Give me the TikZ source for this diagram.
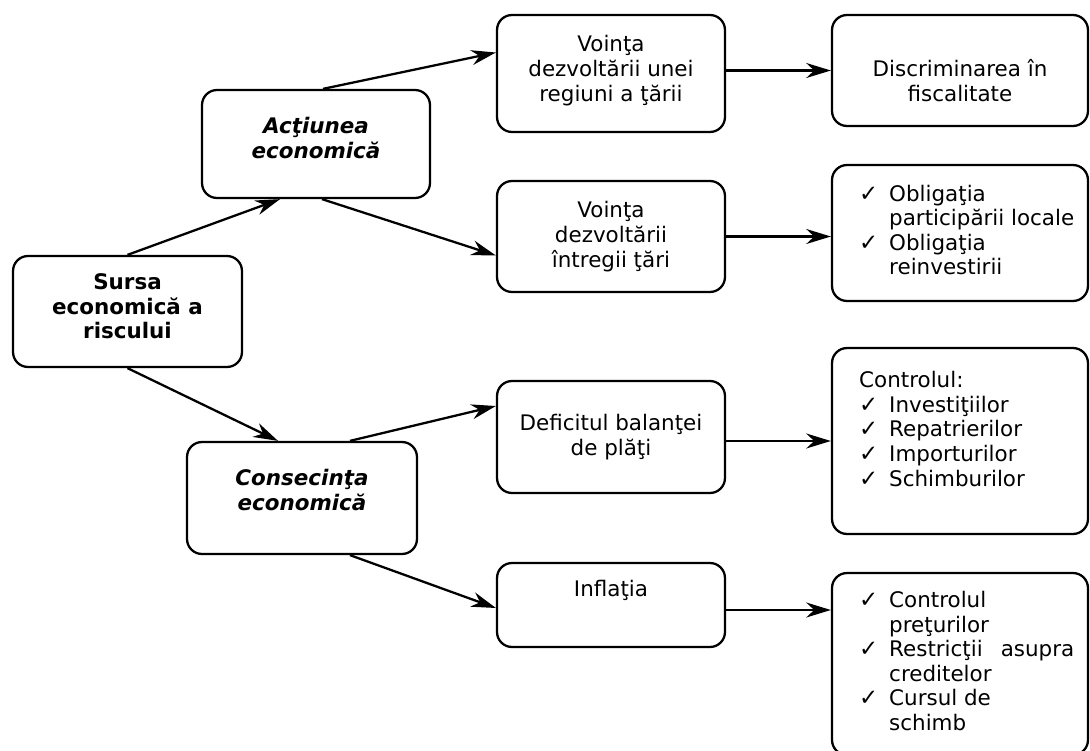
\documentclass[tikz,border=0pt]{standalone}
\usepackage{fontspec}
\setmainfont{DejaVu Sans}
\usepackage{array}
\usetikzlibrary{arrows.meta, positioning, calc}
\newcommand{\chkmark}{{\fontsize{13}{13}\selectfont ✓}}

\begin{document}
\begin{tikzpicture}[x=0.02cm, y=-0.02cm,
    box/.style={draw, line width=1.3pt, rounded corners=0.3cm, inner sep=0pt},
    midbox/.style={box, minimum width=4.56cm},
    farbox/.style={box, minimum width=5.12cm},
    txt/.style={align=center, inner sep=0pt, font=\fontsize{12.2}{14}\selectfont},
    lst/.style={anchor=west, inner sep=0pt, font=\fontsize{12.2}{14}\selectfont},
    link/.style={line width=1.3pt, -{Stealth[length=14pt, width=8.5pt, inset=4.5pt]}}]
  \useasboundingbox (0,0) rectangle (1090,751);
  % Source and the two branches
  \node[box, minimum width=4.58cm, minimum height=2.22cm] (sursa) at (127.5,311.5) {};
  \node[box, minimum width=4.56cm, minimum height=2.16cm] (actiune) at (316,144) {};
  \node[box, minimum width=4.60cm, minimum height=2.24cm] (consecinta) at (302,498) {};
  \node[txt] (t-sursa) at ($(sursa)+(0,-5)$) {\bfseries Sursa\\\bfseries economică a\\\bfseries riscului};
  \node[txt] (t-actiune) at ($(actiune)+(0,-6)$) {\bfseries\itshape Acţiunea\\\bfseries\itshape economică};
  \node[txt] (t-consecinta) at ($(consecinta)+(0,-8)$) {\bfseries\itshape Consecinţa\\\bfseries\itshape economică};
  % Middle column
  \node[midbox, minimum height=2.34cm] (vointaA) at (611,73.5) {};
  \node[midbox, minimum height=2.22cm] (vointaB) at (611,236.5) {};
  \node[midbox, minimum height=2.24cm] (deficit) at (611,437) {};
  \node[midbox, minimum height=1.68cm] (inflatia) at (611,605) {};
  \node[txt] (t-vointaA) at ($(vointaA)+(0,-3)$) {Voinţa\\dezvoltării unei\\regiuni a ţării};
  \node[txt] (t-vointaB) at (vointaB) {Voinţa\\dezvoltării\\întregii ţări};
  \node[txt] (t-deficit) at (deficit) {Deficitul balanţei\\de plăţi};
  \node[txt] (t-inflatia) at ($(inflatia)+(0,-15)$) {Inflaţia};
  % Right column
  \node[farbox, minimum height=2.22cm] (discrim) at (960,70.5) {};
  \node[farbox, minimum height=2.72cm] (obligatii) at (960,233) {};
  \node[farbox, minimum height=3.72cm] (controlul) at (960,441) {};
  \node[farbox, minimum height=3.64cm] (masuri) at (960,664) {};
  \node[txt] (t-discrim) at ($(discrim)+(0,10)$) {Discriminarea în\\fiscalitate};
  \node[lst] (t-obligatii) at ($(obligatii.west)+(28,0)$) {%
    \begin{tabular}{@{}p{0.6cm}@{}p{3.7cm}@{}}
      \chkmark & Obligaţia\newline participării locale\\
      \chkmark & Obligaţia\newline reinvestirii
    \end{tabular}};
  \node[lst] (t-controlul) at ($(controlul.west)+(28,-9)$) {%
    \begin{tabular}{@{}p{0.6cm}@{}p{3.7cm}@{}}
      \multicolumn{2}{@{}l@{}}{Controlul:}\\
      \chkmark & Investiţiilor\\
      \chkmark & Repatrierilor\\
      \chkmark & Importurilor\\
      \chkmark & Schimburilor
    \end{tabular}};
  \node[lst] (t-masuri) at ($(masuri.west)+(28,0)$) {%
    \begin{tabular}{@{}p{0.6cm}@{}p{3.7cm}@{}}
      \chkmark & Controlul\newline preţurilor\\
      \chkmark & Restricţii\hfill asupra\newline creditelor\\
      \chkmark & Cursul de\newline schimb
    \end{tabular}};
  % Connectors
  \draw[link] (sursa.north) -- ($(actiune.south)+(-36,0)$);
  \draw[link] (sursa.south) -- ($(consecinta.north)+(-24,0)$);
  \draw[link] ($(actiune.north)+(7,0)$) -- ($(vointaA.west)+(0,-21)$);
  \draw[link] ($(actiune.south)+(6,0)$) -- ($(vointaB.west)+(0,19)$);
  \draw[link] ($(consecinta.north)+(48,0)$) -- ($(deficit.west)+(0,-31)$);
  \draw[link] ($(consecinta.south)+(48,0)$) -- ($(inflatia.west)+(0,3)$);
  \draw[link] (discrim.west -| vointaA.east) -- (discrim.west);
  \draw[link] (vointaB.east) -- (vointaB.east -| obligatii.west);
  \draw[link] (controlul.west -| deficit.east) -- (controlul.west);
  \draw[link] ($(inflatia.east)+(0,5)$) -- ($(inflatia.east -| masuri.west)+(0,5)$);
\end{tikzpicture}
\end{document}
